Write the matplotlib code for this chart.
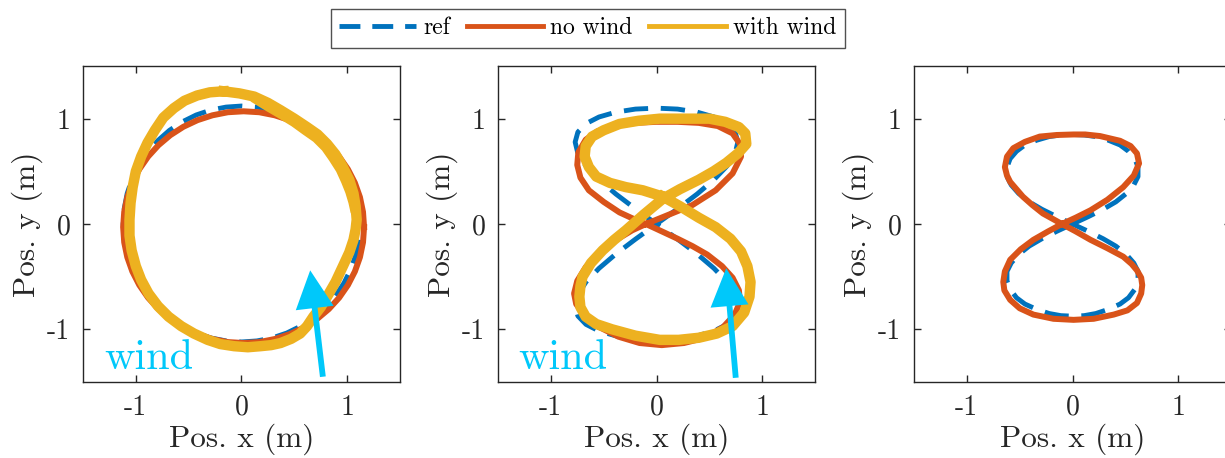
import matplotlib
matplotlib.use('Agg')
import matplotlib.pyplot as plt
from matplotlib.lines import Line2D

plt.rcParams['font.family'] = ['cmr10', 'DejaVu Serif']
plt.rcParams['mathtext.fontset'] = 'cm'
plt.rcParams['axes.unicode_minus'] = False

C_REF = '#0072BD'
C_NOWIND = '#D95319'
C_WIND = '#EDB120'
C_ARROW = '#00C8FA'
C_AX = '#262626'

# ---- panel 1: circle ----
ref1_x = [1.12, 1.110, 1.082, 1.035, 0.970, 0.889, 0.792, 0.682, 0.56, 0.429, 0.290, 0.146, 0.0,
          -0.146, -0.290, -0.429, -0.56, -0.682, -0.792, -0.889, -0.970, -1.035, -1.082, -1.110, -1.12,
          -1.110, -1.082, -1.035, -0.970, -0.889, -0.792, -0.682, -0.56, -0.429, -0.290, -0.146, 0.0,
          0.146, 0.290, 0.429, 0.56, 0.682, 0.792, 0.889, 0.970, 1.035, 1.082, 1.110, 1.12]
ref1_y = [0.0, 0.146, 0.290, 0.429, 0.56, 0.682, 0.792, 0.889, 0.970, 1.035, 1.082, 1.110, 1.12,
          1.110, 1.082, 1.035, 0.970, 0.889, 0.792, 0.682, 0.56, 0.429, 0.290, 0.146, 0.0,
          -0.146, -0.290, -0.429, -0.56, -0.682, -0.792, -0.889, -0.970, -1.035, -1.082, -1.110, -1.12,
          -1.110, -1.082, -1.035, -0.970, -0.889, -0.792, -0.682, -0.56, -0.429, -0.290, -0.146, 0.0]

nowind1_x = [1.16, 1.150, 1.121, 1.073, 1.007, 0.924, 0.826, 0.714, 0.59, 0.456, 0.315, 0.169, 0.02,
             -0.129, -0.275, -0.416, -0.55, -0.674, -0.786, -0.884, -0.967, -1.033, -1.081, -1.110, -1.12,
             -1.110, -1.081, -1.033, -0.967, -0.884, -0.786, -0.674, -0.55, -0.416, -0.275, -0.129, 0.02,
             0.169, 0.315, 0.456, 0.59, 0.714, 0.826, 0.924, 1.007, 1.073, 1.121, 1.150, 1.16]
nowind1_y = [-0.03, 0.114, 0.255, 0.391, 0.52, 0.640, 0.748, 0.843, 0.923, 0.986, 1.032, 1.061, 1.07,
             1.061, 1.032, 0.986, 0.923, 0.843, 0.748, 0.640, 0.52, 0.391, 0.255, 0.114, -0.03,
             -0.174, -0.315, -0.451, -0.58, -0.700, -0.808, -0.903, -0.983, -1.046, -1.092, -1.121, -1.13,
             -1.121, -1.092, -1.046, -0.983, -0.903, -0.808, -0.700, -0.58, -0.451, -0.315, -0.174, -0.03]

wind1_x = [-0.17, -0.30, -0.42, -0.54, -0.64, -0.74, -0.82, -0.89, -0.95, -1.00, -1.03, -1.05,
           -1.06, -1.06, -1.04, -1.00, -0.95, -0.88, -0.79, -0.69, -0.57, -0.45, -0.32, -0.20,
           -0.07, 0.06, 0.18, 0.28, 0.37, 0.47, 0.555, 0.62, 0.68, 0.75, 0.81, 0.89, 0.96,
           1.02, 1.06, 1.08, 1.09, 1.08, 1.06, 1.02, 0.96, 0.89, 0.81, 0.72, 0.62, 0.50, 0.37,
           0.25, 0.12, -0.02, -0.17]
wind1_y = [1.26, 1.25, 1.22, 1.17, 1.10, 1.01, 0.89, 0.77, 0.64, 0.50, 0.35, 0.20,
           0.04, -0.11, -0.25, -0.40, -0.53, -0.66, -0.78, -0.88, -0.97, -1.04, -1.10, -1.14,
           -1.16, -1.17, -1.16, -1.15, -1.13, -1.09, -1.04, -0.97, -0.88, -0.79, -0.69, -0.55, -0.40,
           -0.27, -0.15, -0.05, 0.04, 0.17, 0.29, 0.42, 0.54, 0.66, 0.76, 0.85, 0.92, 1.00, 1.08,
           1.15, 1.21, 1.24, 1.26]

# second pass of the wind run, upper right of panel 1
wind1b_x = [0.12, 0.25, 0.37, 0.50, 0.61, 0.71, 0.80, 0.87, 0.94, 0.99, 1.03, 1.06, 1.08]
wind1b_y = [1.20, 1.12, 1.05, 0.97, 0.89, 0.82, 0.73, 0.63, 0.52, 0.41, 0.31, 0.21, 0.12]

# ---- panel 2: figure eight ----
ref2_x = [0.0, 0.199, 0.385, 0.544, 0.667, 0.744, 0.77, 0.744, 0.667, 0.544, 0.385, 0.199, 0.0,
          -0.199, -0.385, -0.544, -0.667, -0.744, -0.77, -0.744, -0.667, -0.544, -0.385, -0.199, 0.0,
          0.199, 0.385, 0.544, 0.667, 0.744, 0.77, 0.744, 0.667, 0.544, 0.385, 0.199, 0.0,
          -0.199, -0.385, -0.544, -0.667, -0.744, -0.77, -0.744, -0.667, -0.544, -0.385, -0.199, 0.0]
ref2_y = [0.0, 0.144, 0.285, 0.421, 0.55, 0.670, 0.778, 0.873, 0.953, 1.016, 1.062, 1.091, 1.1,
          1.091, 1.062, 1.016, 0.953, 0.873, 0.778, 0.670, 0.55, 0.421, 0.285, 0.144, 0.0,
          -0.144, -0.285, -0.421, -0.55, -0.670, -0.778, -0.873, -0.953, -1.016, -1.062, -1.091, -1.1,
          -1.091, -1.062, -1.016, -0.953, -0.873, -0.778, -0.670, -0.55, -0.421, -0.285, -0.144, 0.0]

nowind2_x = [-0.1, 0.12, 0.34, 0.56, 0.72, 0.80, 0.79, 0.72, 0.58, 0.40, 0.20, 0.0, -0.20,
             -0.40, -0.56, -0.67, -0.74, -0.75, -0.72, -0.64, -0.50, -0.35, -0.22, -0.1,
             0.05, 0.20, 0.34, 0.48, 0.62, 0.72, 0.78, 0.79, 0.74, 0.63, 0.46, 0.26, 0.05,
             -0.16, -0.36, -0.54, -0.68, -0.76, -0.78, -0.75, -0.67, -0.54, -0.38, -0.23, -0.1]
nowind2_y = [0.0, 0.09, 0.18, 0.32, 0.48, 0.64, 0.76, 0.86, 0.93, 0.96, 0.97, 0.97, 0.96,
             0.93, 0.88, 0.80, 0.68, 0.56, 0.44, 0.32, 0.21, 0.11, 0.05, 0.0,
             -0.07, -0.14, -0.21, -0.29, -0.40, -0.51, -0.63, -0.74, -0.86, -0.98, -1.08, -1.13, -1.15,
             -1.13, -1.07, -0.98, -0.87, -0.76, -0.66, -0.54, -0.41, -0.27, -0.15, -0.06, 0.0]

wind2_x = [0.06, 0.22, 0.40, 0.56, 0.70, 0.80, 0.86, 0.89, 0.88, 0.83, 0.72, 0.57, 0.40,
           0.21, 0.03, -0.20, -0.42, -0.57, -0.67, -0.72, -0.73, -0.72, -0.70, -0.62, -0.51,
           -0.40, -0.29, -0.12, 0.06, 0.22, 0.40, 0.54, 0.66, 0.77, 0.85, 0.84, 0.78, 0.65,
           0.50, 0.27, 0.03, -0.17, -0.35, -0.50, -0.61, -0.67, -0.68, -0.64, -0.57, -0.44,
           -0.29, -0.13, 0.06]
wind2_y = [0.26, 0.17, 0.06, -0.03, -0.14, -0.26, -0.40, -0.55, -0.69, -0.84, -0.97, -1.04, -1.08,
           -1.10, -1.10, -1.06, -1.00, -0.95, -0.88, -0.79, -0.69, -0.59, -0.50, -0.37, -0.25,
           -0.15, -0.06, 0.09, 0.24, 0.33, 0.42, 0.50, 0.58, 0.67, 0.76, 0.86, 0.92, 0.97,
           1.00, 1.00, 1.00, 0.98, 0.95, 0.89, 0.83, 0.74, 0.64, 0.54, 0.45, 0.39,
           0.35, 0.32, 0.26]

# ---- panel 3: figure eight, no wind case only ----
ref3_x = [0.0, 0.15, 0.29, 0.41, 0.51, 0.58, 0.62, 0.62, 0.59, 0.53, 0.45, 0.34, 0.22, 0.11, 0.0,
          -0.11, -0.22, -0.34, -0.45, -0.53, -0.59, -0.62, -0.62, -0.58, -0.51, -0.41, -0.29, -0.15, 0.0,
          0.15, 0.29, 0.41, 0.51, 0.58, 0.62, 0.62, 0.59, 0.53, 0.45, 0.34, 0.22, 0.11, 0.0,
          -0.11, -0.22, -0.34, -0.45, -0.53, -0.59, -0.62, -0.62, -0.58, -0.51, -0.41, -0.29, -0.15, 0.0]
ref3_y = [0.0, 0.07, 0.14, 0.21, 0.29, 0.37, 0.45, 0.54, 0.62, 0.69, 0.75, 0.795, 0.83, 0.845, 0.85,
          0.845, 0.83, 0.795, 0.75, 0.69, 0.62, 0.54, 0.45, 0.37, 0.29, 0.21, 0.14, 0.07, 0.0,
          -0.07, -0.14, -0.21, -0.29, -0.37, -0.45, -0.54, -0.62, -0.70, -0.76, -0.81, -0.85, -0.87, -0.875,
          -0.87, -0.85, -0.81, -0.76, -0.70, -0.62, -0.54, -0.45, -0.37, -0.29, -0.21, -0.14, -0.07, 0.0]

nowind3_x = [-0.1, 0.03, 0.17, 0.33, 0.48, 0.58, 0.63, 0.61, 0.55, 0.45, 0.26, 0.12, 0.01,
             -0.15, -0.31, -0.45, -0.56, -0.62, -0.64, -0.62, -0.59, -0.53, -0.47, -0.38, -0.28, -0.19, -0.1,
             0.03, 0.17, 0.33, 0.48, 0.56, 0.61, 0.65, 0.66, 0.65, 0.61, 0.52, 0.39, 0.20, 0.01,
             -0.18, -0.37, -0.50, -0.59, -0.645, -0.655, -0.64, -0.59, -0.49, -0.37, -0.23, -0.1]
nowind3_y = [0.0, 0.06, 0.13, 0.23, 0.35, 0.46, 0.575, 0.67, 0.74, 0.79, 0.835, 0.85, 0.85,
             0.845, 0.83, 0.78, 0.72, 0.64, 0.54, 0.46, 0.40, 0.33, 0.26, 0.18, 0.10, 0.05, 0.0,
             -0.07, -0.15, -0.23, -0.31, -0.38, -0.44, -0.51, -0.58, -0.66, -0.75, -0.82, -0.86, -0.90, -0.91,
             -0.90, -0.86, -0.80, -0.72, -0.63, -0.55, -0.45, -0.34, -0.24, -0.15, -0.07, 0.0]

# wind arrows (tail, tip) and label spots, panels 1 and 2
arrow_tail = [(0.77, -1.45), (0.75, -1.46)]
arrow_tip = [(0.65, -0.44), (0.66, -0.42)]
wind_label = [(-1.30, -1.38), (-1.31, -1.38)]

ticks = [-1, 0, 1]
tick_labels = ['-1', '0', '1']

fig = plt.figure(figsize=(12.25, 4.58), dpi=100)
W, H = 1225.0, 458.0
lefts = [83, 498, 914]
axes = [fig.add_axes([l / W, 1 - 382 / H, 317 / W, 316 / H]) for l in lefts]

ref_ls = (0, (5, 2.6))
panels = [
    (ref1_x, ref1_y, nowind1_x, nowind1_y, wind1_x, wind1_y),
    (ref2_x, ref2_y, nowind2_x, nowind2_y, wind2_x, wind2_y),
    (ref3_x, ref3_y, nowind3_x, nowind3_y, None, None),
]

for i, ax in enumerate(axes):
    rx, ry, nx, ny, wx, wy = panels[i]
    ax.plot(rx, ry, color=C_REF, lw=3.5, linestyle=ref_ls)
    ax.plot(nx, ny, color=C_NOWIND, lw=4.3, solid_joinstyle='round')
    if wx is not None:
        ax.plot(wx, wy, color=C_WIND, lw=7.5, solid_joinstyle='round')
    if i == 0:
        ax.plot(wind1b_x, wind1b_y, color=C_WIND, lw=7.5, solid_joinstyle='round',
                solid_capstyle='round')
    ax.set_xlim(-1.5, 1.5)
    ax.set_ylim(-1.5, 1.5)
    ax.set_xticks(ticks)
    ax.set_yticks(ticks)
    ax.set_xticklabels(tick_labels)
    ax.set_yticklabels(tick_labels)
    ax.tick_params(direction='in', length=5, width=1, top=True, right=True,
                   labelsize=20, colors=C_AX, pad=9)
    for s in ax.spines.values():
        s.set_color(C_AX)
        s.set_linewidth(1.0)
    ax.set_xlabel('Pos. x (m)', fontsize=22.5, color=C_AX, labelpad=2)
    ax.set_ylabel('Pos. y (m)', fontsize=22.5, color=C_AX, labelpad=3)

    if i < 2:
        tx, ty = arrow_tail[i]
        hx, hy = arrow_tip[i]
        ax.arrow(tx, ty, hx - tx, hy - ty, width=0.055, head_width=0.36,
                 head_length=0.36, length_includes_head=True, color=C_ARROW,
                 lw=0, zorder=5)
        ax.text(wind_label[i][0], wind_label[i][1], 'wind', fontsize=30.5,
                color=C_ARROW, ha='left', va='baseline')

handles = [
    Line2D([], [], color=C_REF, lw=3.5, linestyle=(0, (4.3, 2.45))),
    Line2D([], [], color=C_NOWIND, lw=3.5),
    Line2D([], [], color=C_WIND, lw=3.5),
]
leg = fig.legend(handles, ['ref', 'no wind', 'with wind'], loc='upper center',
                 bbox_to_anchor=(588 / W, 1 - 9 / H), ncol=3, fontsize=17,
                 frameon=True, fancybox=False, edgecolor=C_AX, borderpad=0.35,
                 handlelength=3.25, handletextpad=0.3, columnspacing=0.7,
                 borderaxespad=0)
leg.get_frame().set_linewidth(1.0)

fig.savefig('out.png', dpi=100)
